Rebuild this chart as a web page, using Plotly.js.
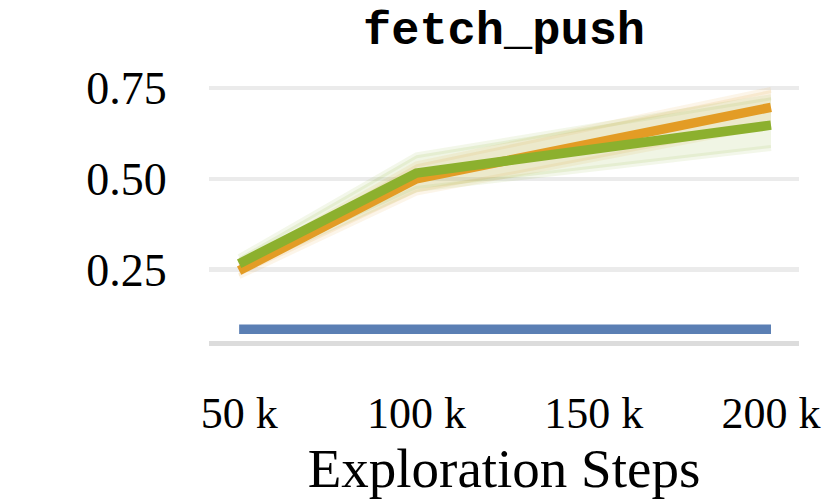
<!DOCTYPE html>
<html>
<head>
<meta charset="utf-8">
<script src="https://cdn.plot.ly/plotly-3.0.1.min.js"></script>
<style>html,body{margin:0;padding:0;background:#fff}#chart{width:829px;height:503px}</style>
</head>
<body>
<div id="chart"></div>
<script>
// Data (x in steps)
const steps = [50000, 100000, 200000];
const blueMean = [0.0855, 0.0855, 0.0855];
const orangeMean = [0.247, 0.500, 0.697];
const orangeUpper = [0.262, 0.540, 0.745];
const orangeLower = [0.232, 0.462, 0.648];
const greenMean = [0.266, 0.516, 0.648];
const greenUpper = [0.284, 0.565, 0.725];
const greenLower = [0.250, 0.472, 0.585];
const xTickVals = [50000, 100000, 150000, 200000];
const xTickText = ['50 k', '100 k', '150 k', '200 k'];
const yTickVals = [0.25, 0.50, 0.75];
const yTickText = ['0.25', '0.50', '0.75'];

const BLUE = '#5b7fb4', ORANGE = '#e39c25', GREEN = '#8cb02e';

function band(lower, upper, fill, edge) {
  return [
    {x: steps, y: lower, mode: 'lines', line: {width: 6, color: edge}, hoverinfo: 'skip', showlegend: false},
    {x: steps, y: upper, mode: 'lines', line: {width: 6, color: edge}, fill: 'tonexty', fillcolor: fill, hoverinfo: 'skip', showlegend: false}
  ];
}

const traces = [
  ...band(orangeLower, orangeUpper, 'rgba(227,156,37,0.13)', 'rgba(227,156,37,0.10)'),
  ...band(greenLower, greenUpper, 'rgba(140,176,46,0.13)', 'rgba(140,176,46,0.10)'),
  {x: steps, y: blueMean, mode: 'lines', line: {width: 9.5, color: BLUE}, hoverinfo: 'skip', showlegend: false},
  {x: steps, y: orangeMean, mode: 'lines', line: {width: 9.5, color: ORANGE}, hoverinfo: 'skip', showlegend: false},
  {x: steps, y: greenMean, mode: 'lines', line: {width: 9.5, color: GREEN}, hoverinfo: 'skip', showlegend: false}
];

const serif = '"Liberation Serif", "DejaVu Serif", serif';
const layout = {
  width: 829, height: 503,
  margin: {l: 209, r: 30, t: 70, b: 162},
  paper_bgcolor: '#fff', plot_bgcolor: '#fff',
  showlegend: false,
  title: {text: '<b>fetch_push</b>', x: 0.608, xanchor: 'center', y: 0.945, yanchor: 'middle',
          font: {family: '"Liberation Mono", "DejaVu Sans Mono", monospace', size: 47, color: '#000'}},
  xaxis: {
    range: [41500, 207900], tickvals: xTickVals, ticktext: xTickText,
    showgrid: false, zeroline: false,
    showline: true, linecolor: '#dcdcdc', linewidth: 5,
    ticks: 'outside', ticklen: 29, tickcolor: 'rgba(0,0,0,0)',
    tickfont: {family: serif, size: 44, color: '#000'},
    title: {text: 'Exploration Steps', standoff: 12, font: {family: serif, size: 55, color: '#000'}}
  },
  yaxis: {
    range: [0.053, 0.80], tickvals: yTickVals, ticktext: yTickText,
    showgrid: true, gridcolor: '#ebebeb', gridwidth: 4.5,
    zeroline: false, showline: false,
    ticks: 'outside', ticklen: 32, tickcolor: 'rgba(0,0,0,0)',
    tickfont: {family: serif, size: 46, color: '#000'}
  }
};

Plotly.newPlot('chart', traces, layout, {staticPlot: true, displayModeBar: false});
</script>
</body>
</html>
